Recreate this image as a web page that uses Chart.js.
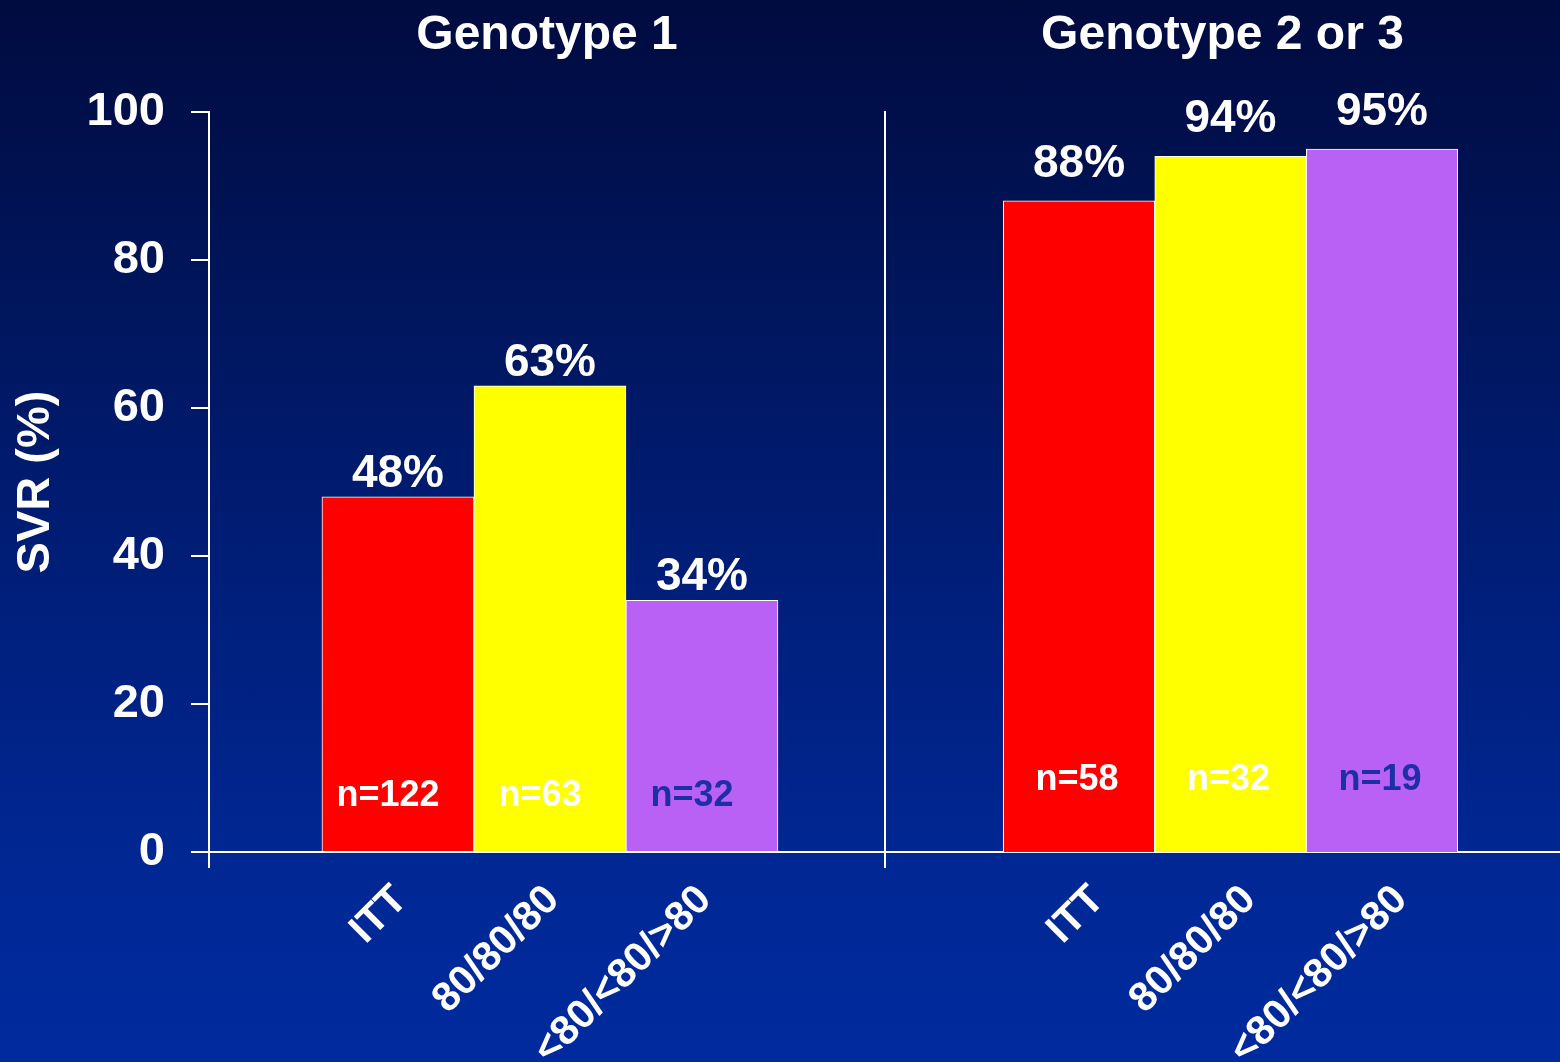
<!DOCTYPE html>
<html>
<head>
<meta charset="utf-8">
<title>SVR by genotype</title>
<script src="https://cdn.jsdelivr.net/npm/chart.js@4.4.1/dist/chart.umd.min.js"></script>
<style>
  html, body { margin: 0; padding: 0; }
  body {
    width: 1560px; height: 1062px; overflow: hidden; position: relative;
    background: linear-gradient(to bottom, #000b40 0%, #00165e 30%, #00207f 60%, #002896 85%, #002a9e 100%);
  }
  .panel { position: absolute; top: 0; }
  #left { left: 0; }
  #right { left: 875px; }
</style>
</head>
<body>
<div class="panel" id="left"><canvas id="chartG1" width="885" height="1062"></canvas></div>
<div class="panel" id="right"><canvas id="chartG23" width="685" height="1062"></canvas></div>
<script>
const categories = ['ITT', '80/80/80', '<80/<80/>80'];
const g1Values = [48, 63, 34];
const g1Counts = [122, 63, 32];
const g23Values = [88, 94, 95];
const g23Counts = [58, 32, 19];
const yTicks = [0, 20, 40, 60, 80, 100];
const barColors = ['#ff0000', '#ffff00', '#b960f5'];
const countColors = ['#ffffff', '#ffffff', '#1c2fa6'];

const FONT = '"Liberation Sans", Arial, Helvetica, sans-serif';
Chart.defaults.font.family = FONT;
Chart.defaults.font.weight = 'bold';
Chart.defaults.color = '#ffffff';

// percent above each bar, n= inside the bar
const barLabels = {
    id: 'barLabels',
    afterDatasetsDraw(chart, args, o) {
        const ctx = chart.ctx;
        const meta = chart.getDatasetMeta(0);
        const ds = chart.data.datasets[0];
        const yScale = chart.scales.y;
        ctx.save();
        ctx.textAlign = 'center';
        meta.data.forEach((bar, i) => {
            ctx.font = 'bold 46px ' + FONT;
            ctx.fillStyle = '#ffffff';
            ctx.textBaseline = 'alphabetic';
            ctx.fillText(ds.data[i].y + '%', bar.x, bar.y - o.valueGap);

            ctx.font = 'bold 36px ' + FONT;
            ctx.fillStyle = countColors[i];
            ctx.textBaseline = 'middle';
            ctx.fillText('n=' + o.counts[i], bar.x + o.countShift, yScale.getPixelForValue(o.countAt));
        });
        ctx.restore();
    }
};

function makeChart(id, title, values, counts, opts) {
    return new Chart(document.getElementById(id), {
        type: 'bar',
        data: {
            datasets: [{
                data: values.map((v, i) => ({ x: i + 1, y: v })),
                backgroundColor: barColors,
                borderColor: '#ffffff',
                borderWidth: 1,
                barPercentage: 1,
                categoryPercentage: 1
            }]
        },
        options: {
            responsive: false,
            animation: false,
            layout: { padding: 0 },
            plugins: {
                legend: { display: false },
                tooltip: { enabled: false },
                title: {
                    display: true,
                    text: title,
                    color: '#ffffff',
                    fullSize: false,
                    font: { size: 48, weight: 'bold' },
                    padding: { top: 7, bottom: 47.4 }
                },
                barLabels: {
                    counts: counts,
                    valueGap: opts.valueGap,
                    countAt: opts.countAt,
                    countShift: opts.countShift
                }
            },
            scales: {
                x: {
                    type: 'linear',
                    offset: false,
                    bounds: 'data',
                    min: opts.xMin,
                    max: opts.xMax,
                    afterBuildTicks: s => {
                        s.ticks = [s.min].concat(categories.map((c, i) => i + 1)).map(v => ({ value: v }));
                    },
                    afterFit: s => { s.height = 210; },
                    border: { display: true, color: '#ffffff', width: 2 },
                    grid: {
                        offset: false,
                        drawOnChartArea: false,
                        drawTicks: true,
                        tickLength: 16,
                        lineWidth: 2,
                        color: c => c.index === 0 ? '#ffffff' : 'rgba(0,0,0,0)'
                    },
                    ticks: {
                        autoSkip: false,
                        minRotation: 45,
                        maxRotation: 45,
                        padding: 8,
                        labelOffset: opts.labelOffset,
                        color: '#ffffff',
                        font: { size: 41, weight: 'bold' },
                        callback: v => categories[v - 1] || ''
                    }
                },
                y: {
                    min: 0,
                    max: 100,
                    afterBuildTicks: s => { s.ticks = yTicks.map(v => ({ value: v })); },
                    afterFit: s => { s.width = opts.yWidth; },
                    border: { display: true, color: '#ffffff', width: 2 },
                    grid: {
                        display: opts.showY,
                        drawOnChartArea: false,
                        drawTicks: true,
                        tickLength: 18,
                        lineWidth: 2,
                        color: '#ffffff'
                    },
                    ticks: {
                        display: opts.showY,
                        color: '#ffffff',
                        padding: 26,
                        font: { size: 47, weight: 'bold' }
                    },
                    title: {
                        display: opts.showY,
                        text: 'SVR (%)',
                        color: '#ffffff',
                        font: { size: 47, weight: 'bold' },
                        padding: { top: 8, bottom: 0 }
                    }
                }
            }
        },
        plugins: [barLabels]
    });
}

makeChart('chartG1', 'Genotype 1', g1Values, g1Counts, {
    xMin: -0.243, xMax: 4.204, yWidth: 209, showY: true,
    labelOffset: 3, valueGap: 10, countAt: 7.6, countShift: -10
});

makeChart('chartG23', 'Genotype 2 or 3', g23Values, g23Counts, {
    xMin: -0.2805, xMax: 4.175, yWidth: 10, showY: false,
    labelOffset: 19, valueGap: 24, countAt: 9.7, countShift: -2
});
</script>
</body>
</html>
